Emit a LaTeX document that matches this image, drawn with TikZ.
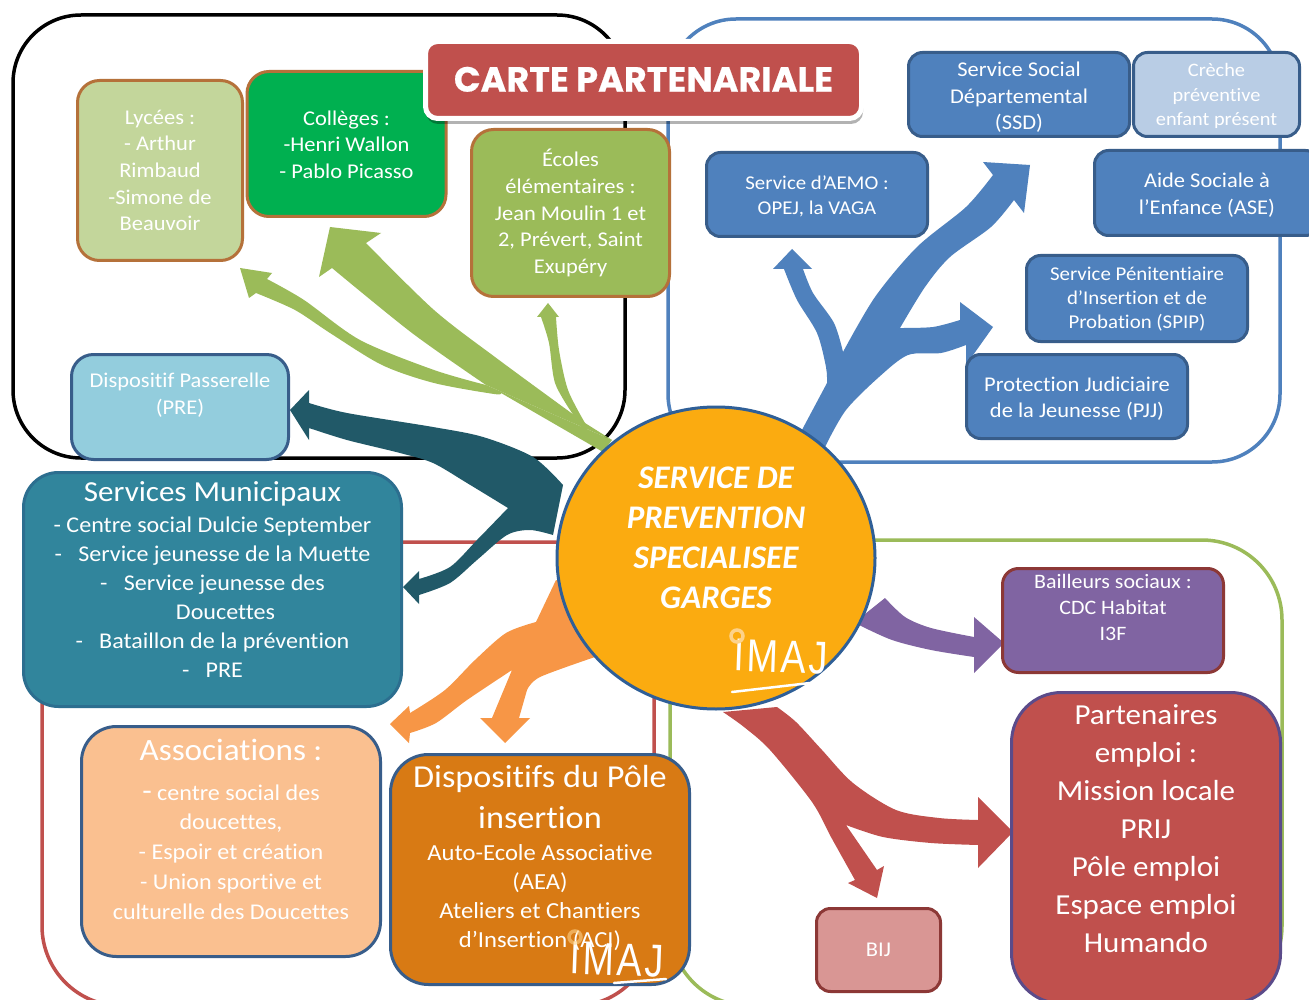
\documentclass[tikz,border=0pt]{standalone}
\usepackage{fontspec}
\setmainfont[FakeStretch=1.07,Ligatures=CommonOff]{Carlito}
\newfontfamily\plainfont[Ligatures=CommonOff]{Carlito}
\newfontfamily\titlefont[BoldFeatures={FakeBold=0.5}]{Poppins}
\newfontfamily\logofont[FakeStretch=0.82,LetterSpace=6]{Liberation Sans}
\usetikzlibrary{shapes.geometric}
\definecolor{cgreen}{HTML}{9BBB59}
\definecolor{cblue}{HTML}{4F81BD}
\definecolor{cdblue}{HTML}{385D8A}
\definecolor{cred}{HTML}{C0504D}
\definecolor{cdred}{HTML}{8C3836}
\definecolor{cbrown}{HTML}{B5713A}
\definecolor{cteal}{HTML}{31859C}
\definecolor{cdteal}{HTML}{215968}
\definecolor{corange}{HTML}{F79646}
\definecolor{cpurple}{HTML}{8064A2}
\definecolor{clgreen}{HTML}{C3D69B}
\definecolor{cvivid}{HTML}{00B050}
\definecolor{csky}{HTML}{93CDDD}
\definecolor{clblue}{HTML}{B9CDE5}
\definecolor{ctealb}{HTML}{2C6E8F}
\definecolor{cpeach}{HTML}{FAC090}
\definecolor{cochre}{HTML}{D87A14}
\definecolor{cviolet}{HTML}{5B4B8A}
\definecolor{cpink}{HTML}{D99694}
\definecolor{ccircb}{HTML}{2F5F97}
\definecolor{ccirc}{HTML}{FBAB10}
\definecolor{cring}{HTML}{FDD28A}
\newcommand\dn[1]{\rule{0pt}{#1pt}}
\tikzset{
  x=1pt,y=-1pt,
  frame/.style={line width=3.5pt,rounded corners=68pt},
  box/.style={draw,line width=3pt,rounded corners=22pt,align=center,text=white,inner sep=0pt},
  f/.style 2 args={font=\fontsize{#1}{#2}\selectfont},
  logotext/.style={text=white,font=\logofont\fontsize{46}{46}\selectfont,rotate=-2,inner sep=0pt},
  logoring/.style={draw=cring,line width=3.5pt,circle,minimum size=12pt,inner sep=0pt},
  logoline/.style={draw=white,line width=2.5pt,line cap=round},
}
\begin{document}
\begin{tikzpicture}
\clip (0,0) rectangle (1309,1000);
\fill[white] (0,0) rectangle (1309,1000);
% group frames
\draw[frame,black] (13,15) rectangle (625,458);
\draw[frame,cblue] (668,19) rectangle (1280,462);
\draw[frame,cred,rounded corners=80pt] (42,542) rectangle (654,1006);
\draw[frame,cgreen,rounded corners=80pt] (670,540) rectangle (1282,1006);
% green branches
\fill[cgreen] (612,440) -- plot[smooth,tension=.5] coordinates {(585,423) (499,360) (434,310) (366,243)} -- (381,233) -- (330,227) -- (319,277) -- plot[smooth,tension=.5] coordinates {(332,268) (412,333) (486,385)} -- cycle;
\fill[cgreen] (603,452) -- (612,440) -- (486,385) -- plot[smooth,tension=.5] coordinates {(486,385) (434,370) (360,340) (304,300) (267,279)} -- (272,273) -- (240,268) -- (249,298) -- plot[smooth,tension=.5] coordinates {(256,293) (295,310) (330,333) (382,365) (434,383) (494,394) (501,393)} -- cycle;
\fill[cgreen] (590,440) -- plot[smooth,tension=.5] coordinates {(585,423) (568,390) (559,350) (556,317)} -- (559,317) -- (548,303) -- (537,317) -- plot[smooth,tension=.5] coordinates {(541,317) (549,343) (555,383) (572,413)} -- cycle;
% teal branches
\fill[cdteal] (563,485) -- plot[smooth,tension=.5] coordinates {(563,485) (533,457) (483,437) (433,427) (347,413) (309,403)} -- (309,390) -- (290,410) -- (309,440) -- plot[smooth,tension=.5] coordinates {(309,428) (347,440) (400,453) (433,463) (467,483) (508,508)} -- plot[smooth,tension=.5] coordinates {(508,508) (477,540) (450,567) (419,579)} -- (419,571) -- (403,587) -- (419,604) -- plot[smooth,tension=.5] coordinates {(419,595) (450,583) (477,560) (507,535) (530,530) (553,535)} -- cycle;
% blue branches
\fill[cblue] (815,470) -- (795,445) -- (803,428) -- plot[smooth,tension=.5] coordinates {(827,383) (826,367) (817,333) (797,300) (784,269)} -- (773,269) -- (792,249) -- (812,269) -- plot[smooth,tension=.5] coordinates {(803,269) (813,293) (834,323) (843,352)} -- plot[smooth,tension=.5] coordinates {(843,352) (875,297) (917,247) (966,207) (993,175)} -- (983,162) -- (1030,165) -- (1024,213) -- plot[smooth,tension=.5] coordinates {(1014,200) (991,227) (950,257) (925,287) (900,328)} -- plot[smooth,tension=.5] coordinates {(900,328) (933,327) (960,320)} -- (960,302) -- (993,327) -- (966,365) -- plot[smooth,tension=.5] coordinates {(966,345) (941,353) (908,355) (879,377) (846,410) (826,445)} -- cycle;
% orange branches
\fill[corange] (600,600) -- (556,580) -- (536,622) -- plot[smooth,tension=.5] coordinates {(536,622) (506,633) (475,660) (445,690) (410,713)} -- (409,706) -- (390,724) -- (409,743) -- plot[smooth,tension=.5] coordinates {(410,733) (436,723) (467,700) (512,670)} -- (492,718) -- (480,718) -- (505,743) -- (530,718) -- (519,718) -- plot[smooth,tension=.5] coordinates {(527,690) (540,677) (595,657)} -- cycle;
% purple branch
\fill[cpurple] (855,622) -- (885,598) -- plot[smooth,tension=.5] coordinates {(885,598) (905,617) (931,628) (974,637)} -- (974,617) -- (1004,643) -- (974,673) -- plot[smooth,tension=.5] coordinates {(974,657) (931,650) (892,640) (859,625)} -- cycle;
% red branches
\fill[cred] (723,712) -- (777,707) -- plot[smooth,tension=.5] coordinates {(777,707) (796,722) (822,750) (853,783) (896,810) (939,818) (978,820)} -- (978,797) -- (1013,832) -- (978,868) -- plot[smooth,tension=.5] coordinates {(978,845) (931,843) (883,837) (846,825)} -- (877,870) -- (884,866) -- (877,898) -- (848,883) -- (855,880) -- plot[smooth,tension=.5] coordinates {(855,880) (831,837) (812,802) (770,750) (744,727) (723,712)} -- cycle;
% boxes
\node[box,draw=cbrown,fill=clgreen,f={21}{26.7},minimum width=165pt,minimum height=180pt] (lycees) at (160,170.5) {Lycées :\\- Arthur\\Rimbaud\\-Simone de\\Beauvoir};
\node[box,draw=cbrown,fill=cvivid,f={21}{26.7},minimum width=199pt,minimum height=145pt] (colleges) at (346.5,144) {\dn{16}Collèges :\\-Henri Wallon\\- Pablo Picasso};
\node[box,draw=cbrown,fill=cgreen,f={21}{26.7},minimum width=198pt,minimum height=167pt] (ecoles) at (570.5,213) {Écoles\\élémentaires :\\Jean Moulin 1 et\\2, Prévert, Saint\\Exupéry};
\node[box,draw=cdblue,fill=csky,f={21}{27},minimum width=217pt,minimum height=105pt] (pre) at (180,407) {Dispositif Passerelle\\(PRE)\\~};
\node[box,draw=cdblue,fill=cblue,f={21}{26.5},rounded corners=14pt,minimum width=221pt,minimum height=84pt] (ssd) at (1019,94.5) {\dn{20}Service Social\\Départemental\\(SSD)};
\node[box,draw=cdblue,fill=clblue,f={19}{24.5},rounded corners=14pt,minimum width=166pt,minimum height=84pt] (creche) at (1216.5,94.5) {\dn{17}Crèche\\préventive\\enfant présent};
\node[box,draw=cdblue,fill=cblue,f={19.5}{25},rounded corners=14pt,minimum width=221pt,minimum height=84pt] (aemo) at (817,194.5) {\dn{17}Service d’AEMO :\\OPEJ, la VAGA};
\node[box,draw=cdblue,fill=cblue,f={21}{26.7},rounded corners=14pt,minimum width=225pt,minimum height=85pt] (ase) at (1207,193) {\dn{19}Aide Sociale à\\l’Enfance (ASE)};
\node[box,draw=cdblue,fill=cblue,f={19.5}{24},rounded corners=14pt,minimum width=221pt,minimum height=86pt] (spip) at (1137,298.5) {\dn{15}Service Pénitentiaire\\d’Insertion et de\\Probation (SPIP)};
\node[box,draw=cdblue,fill=cblue,f={21}{26.5},rounded corners=14pt,minimum width=221pt,minimum height=84pt] (pjj) at (1077,396.5) {\dn{19}Protection Judiciaire\\de la Jeunesse (PJJ)};
\node[box,draw=ctealb,fill=cteal,f={22.5}{29},rounded corners=35pt,minimum width=378pt,minimum height=234pt] (municipaux) at (212.5,589.5) {{\fontsize{29}{33}\selectfont Services Municipaux}\\[2pt]- Centre social Dulcie September\\-~~~Service jeunesse de la Muette\\-~~~Service jeunesse des\\\hspace*{26pt}Doucettes\\-~~~Bataillon de la prévention\\-~~~PRE\\[-9pt]~};
\node[box,draw=cdblue,fill=cpeach,f={22.5}{29.7},rounded corners=35pt,minimum width=299pt,minimum height=230pt] (assoc) at (231,841.5) {{\fontsize{31}{36}\selectfont Associations :}\\[10pt]{\fontsize{29}{30}\selectfont -} centre social des\\doucettes,\\- Espoir et création\\- Union sportive et\\culturelle des Doucettes\\[-5pt]~};
\node[box,draw=cdblue,fill=cochre,f={23}{29},rounded corners=38pt,minimum width=299pt,minimum height=230pt] (pole) at (540,869.5) {{\fontsize{32}{41}\selectfont Dispositifs du Pôle}\\[12pt]{\fontsize{32}{41}\selectfont insertion}\\[3pt]Auto-Ecole Associative\\(AEA)\\Ateliers et Chantiers\\d’Insertion (ACI)\\[-2pt]~};
\node[box,draw=cdred,fill=cpurple,f={20.5}{26},rounded corners=16pt,minimum width=221pt,minimum height=104pt] (bailleurs) at (1113,620.5) {Bailleurs sociaux :\\CDC Habitat\\I3F\\~};
\node[box,draw=cviolet,fill=cred,f={29}{38},rounded corners=50pt,minimum width=269pt,minimum height=311pt] (emploi) at (1146,848) {Partenaires\\emploi :\\Mission locale\\PRIJ\\Pôle emploi\\Espace emploi\\Humando\\~};
\node[box,draw=cdred,fill=cpink,f={21}{22},rounded corners=14pt,minimum width=124pt,minimum height=83pt] (bij) at (878.5,950) {BIJ};
% central circle
\node[ellipse,draw=ccircb,line width=3pt,fill=ccirc,text=white,align=center,inner sep=0pt,minimum width=318pt,minimum height=302pt,font=\plainfont\bfseries\itshape\fontsize{33}{40}\selectfont] (centre) at (716,558) {SERVICE DE\\PREVENTION\\SPECIALISEE\\GARGES\\~};
% logos
\node[logotext] (logoA) at (781,657) {IMAJ};
\node[logoring] (ringA) at (737,636) {};
\coordinate (lineAs) at (732,692);
\coordinate (lineAe) at (810,683);
\draw[logoline] (lineAs) -- (lineAe);
\node[logotext] (logoB) at (617,960) {IMAJ};
\node[logoring,opacity=.6] (ringB) at (575,937) {};
\coordinate (lineBs) at (614,983);
\coordinate (lineBe) at (666,979);
\draw[logoline] (lineBs) -- (lineBe);
% title
\fill[black,opacity=.3,rounded corners=12pt] (426,50) rectangle (863,124);
\node[draw=white,line width=5pt,fill=cred,rounded corners=12pt,text=white,inner sep=0pt,minimum width=436pt,minimum height=77pt,font=\titlefont\bfseries\fontsize{35}{38}\selectfont] (title) at (643.5,80) {\raisebox{1.5pt}{CARTE PARTENARIALE}};
\end{tikzpicture}
\end{document}
